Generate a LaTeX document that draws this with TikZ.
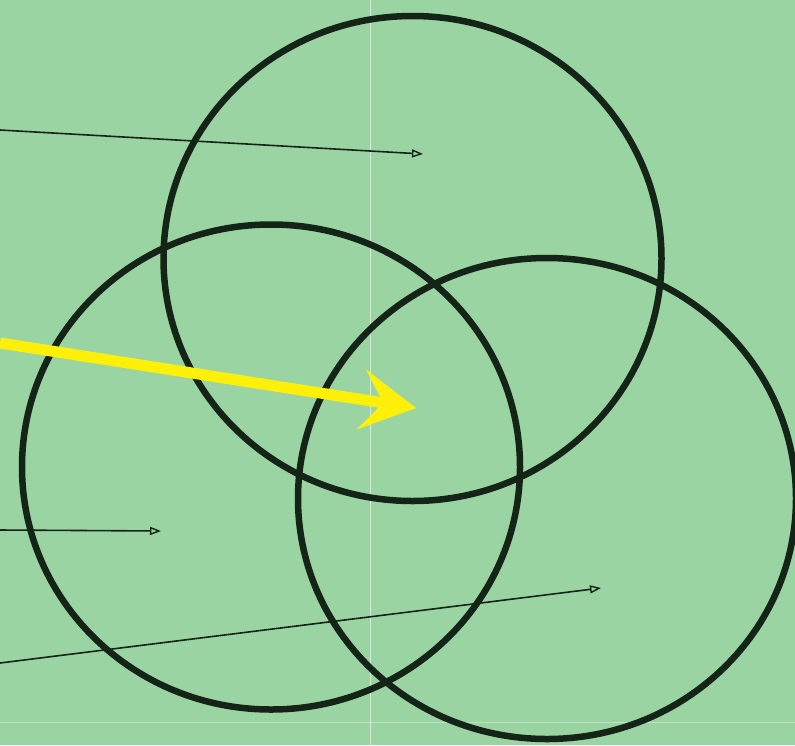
\documentclass[tikz,border=0pt]{standalone}
\usetikzlibrary{arrows.meta, positioning, calc, shapes.geometric}

\definecolor{paper}{RGB}{155,212,163}
\definecolor{ink}{RGB}{20,36,22}
\definecolor{marker}{RGB}{255,240,10}

\begin{document}
\begin{tikzpicture}[
    x=1pt, y=-1pt,
    ring/.style={ellipse, draw=ink, line width=6.5pt, inner sep=0pt, minimum width=498pt, minimum height=485pt},
    pointer/.style={-{Triangle[open, length=11pt, width=8pt, line width=1.4pt]}, line width=1.6pt, color=ink},
    bigpointer/.style={-{Stealth[length=55pt, width=60pt, inset=22pt]}, line width=11pt, color=marker}
]
    % Background sheet
    \fill[paper] (0,0) rectangle (795,745);
    \useasboundingbox (0,0) rectangle (795,745);
    % scan seams
    \draw[white, opacity=0.55, line width=0.8pt] (370,0) -- (370,745);
    \draw[white, opacity=0.35, line width=0.8pt] (0,722) -- (795,722);

    % Three overlapping rings
    \node[ring] (A) at (412.5, 258.5) {};
    \node[ring] (B) at (271, 467) {};
    \node[ring, minimum height=481pt] (C) at (547, 498.5) {};

    % Arrow anchors
    \coordinate (inA) at (0, 130);
    \coordinate (tipA) at (423, 154);
    \coordinate (inM) at (0, 343);
    \coordinate (tipM) at (416, 408);
    \coordinate (inB) at (0, 530);
    \coordinate (tipB) at (161, 531);
    \coordinate (inC) at (0, 663);
    \coordinate (tipC) at (601, 588);

    % Arrows
    \draw[pointer] (inA) -- (tipA);
    \draw[bigpointer] (inM) -- (tipM);
    \draw[pointer] (inB) -- (tipB);
    \draw[pointer] (inC) -- (tipC);
\end{tikzpicture}
\end{document}
